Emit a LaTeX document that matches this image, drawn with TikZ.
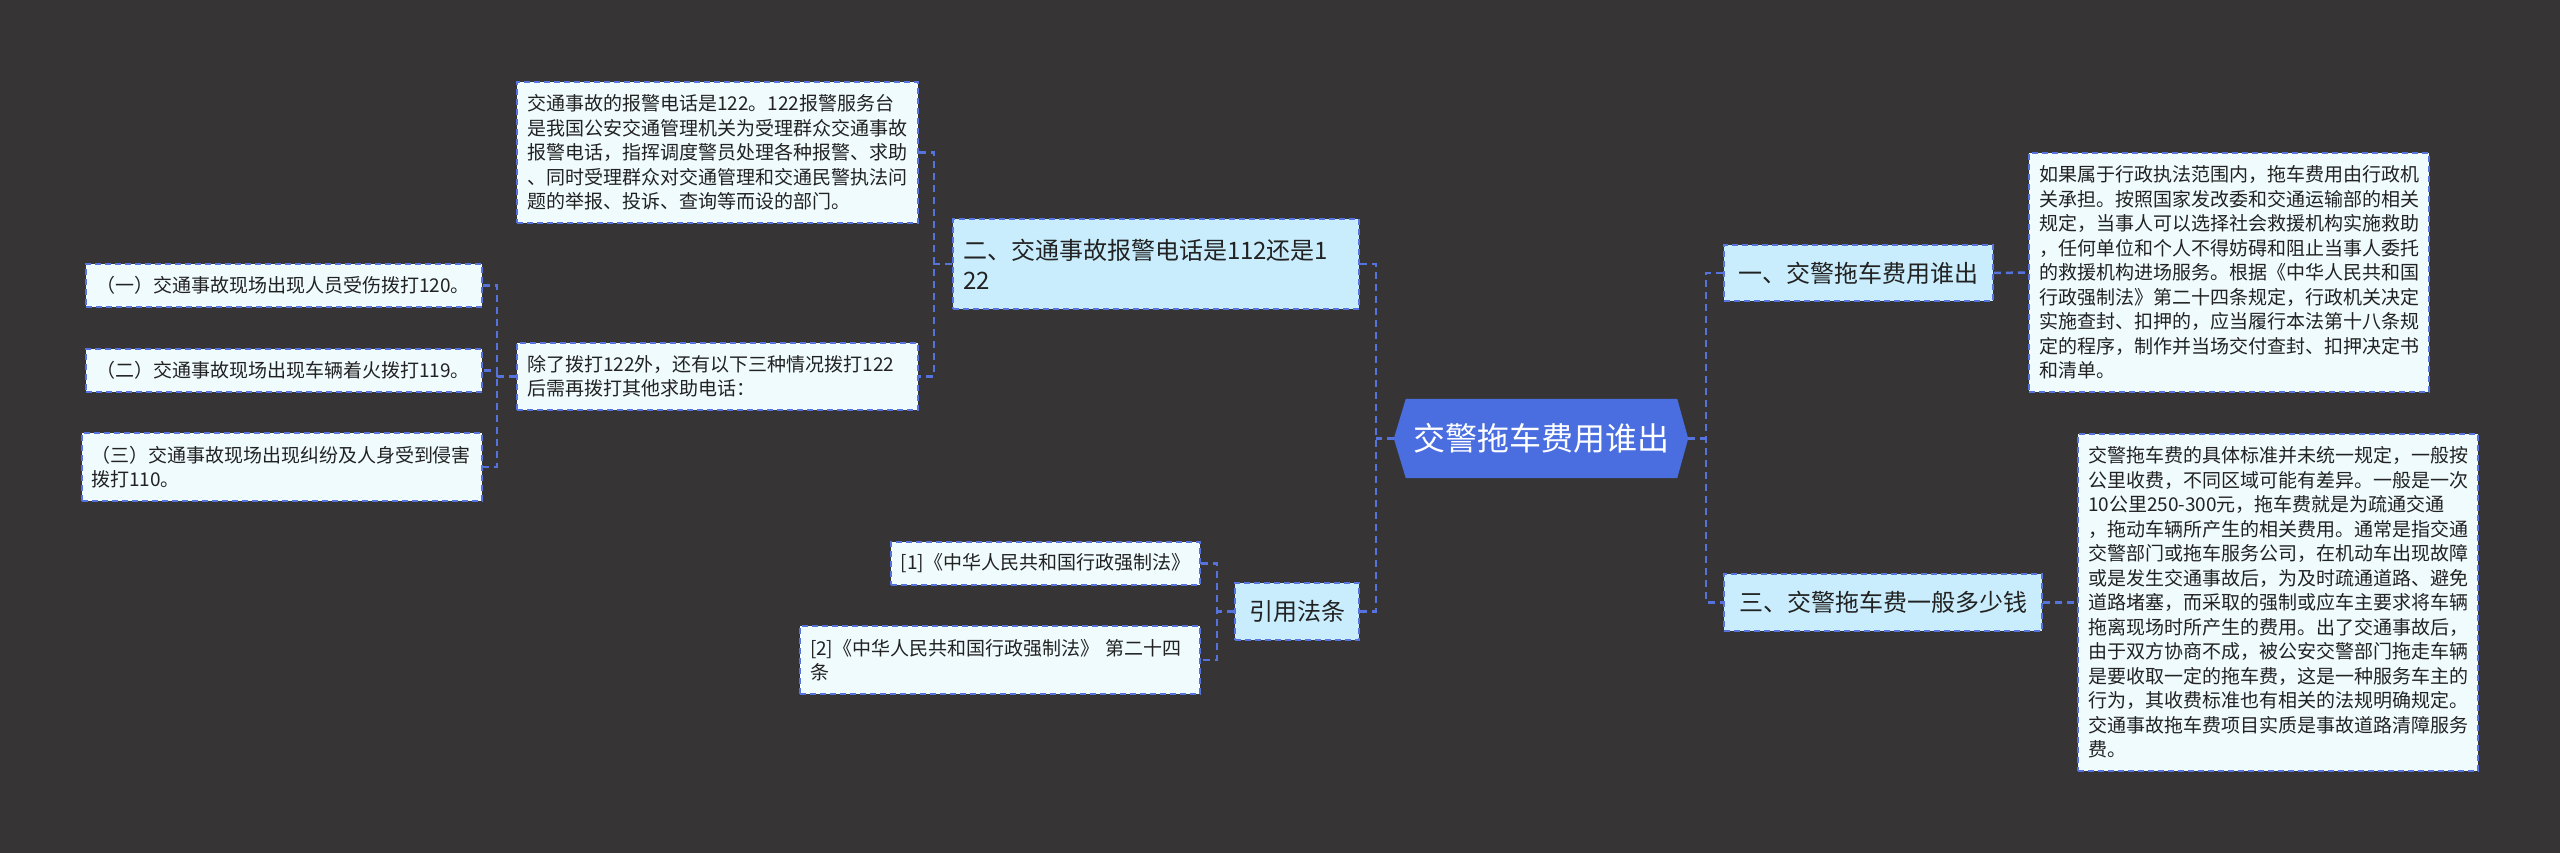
\documentclass[tikz,border=0pt]{standalone}
\usepackage{fontspec}
\newfontfamily\cjk{Noto Sans CJK SC}
\usetikzlibrary{backgrounds}
\definecolor{bgc}{RGB}{54,52,53}
\definecolor{leaffill}{HTML}{F0FBFE}
\definecolor{lvfill}{HTML}{C9EDFC}
\definecolor{linec}{HTML}{5672DC}
\definecolor{rootfill}{HTML}{4A6EE0}
\definecolor{textc}{HTML}{222222}
\begin{document}
\begin{tikzpicture}[x=1pt,y=-1pt,
  leaf/.style={draw=linec, fill=leaffill, dash pattern=on 6pt off 4pt, line width=1.8pt,
    text=textc, font=\cjk\fontsize{19pt}{24.5pt}\selectfont, align=left,
    inner xsep=10pt, inner ysep=0pt, anchor=center},
  lvone/.style={draw=linec, fill=lvfill, dash pattern=on 6pt off 4pt, line width=1.8pt,
    text=textc, font=\cjk\fontsize{24pt}{30pt}\selectfont, align=left,
    inner xsep=10pt, inner ysep=0pt, anchor=center},
  rootbox/.style={text=white, font=\cjk\fontsize{32pt}{38pt}\selectfont,
    inner sep=0pt, minimum width=294pt, minimum height=79pt, anchor=center},
  conn/.style={draw=linec, line width=2.5pt, dash pattern=on 7pt off 5pt}
]
\useasboundingbox (0,0) rectangle (2560,853);
\begin{scope}[on background layer]
  \fill[bgc] (0,0) rectangle (2560,853);
\end{scope}

% root
\node[rootbox] (root) at (1541,438.5) {交警拖车费用谁出};
\begin{scope}[on background layer]
  \fill[rootfill] (root.west) -- ([xshift=12pt]root.north west) -- ([xshift=-11pt]root.north east)
    -- (root.east) -- ([xshift=-11pt]root.south east) -- ([xshift=12pt]root.south west) -- cycle;
\end{scope}

% left side
\node[lvone, text width=386pt, minimum height=90pt] (B) at (1156,264)
  {二、交通事故报警电话是112还是1\\22};
\node[leaf, text width=381pt, minimum height=141pt] (A) at (717.5,152.5)
  {交通事故的报警电话是122。122报警服务台\\是我国公安交通管理机关为受理群众交通事故\\报警电话，指挥调度警员处理各种报警、求助\\、同时受理群众对交通管理和交通民警执法问\\题的举报、投诉、查询等而设的部门。};
\node[leaf, text width=381pt, minimum height=67pt] (C) at (717.5,376.5)
  {除了拨打122外，还有以下三种情况拨打122\\后需再拨打其他求助电话：};
\node[leaf, text width=376pt, minimum height=43pt] (L1) at (284,285.5)
  {（一）交通事故现场出现人员受伤拨打120。};
\node[leaf, text width=376pt, minimum height=43pt] (L2) at (284,370.5)
  {（二）交通事故现场出现车辆着火拨打119。};
\node[leaf, text width=382pt, minimum height=68pt, inner xsep=9pt] (L3) at (282,467)
  {（三）交通事故现场出现纠纷及人身受到侵害\\拨打110。};

\node[lvone, align=center, inner xsep=0pt, minimum width=124pt, minimum height=57pt] (Y) at (1297,611.5) {引用法条};
\node[leaf, align=center, inner xsep=0pt, minimum width=309pt, minimum height=43pt] (Y1) at (1045.5,563.5)
  {[1]《中华人民共和国行政强制法》};
\node[leaf, text width=380pt, minimum height=68pt] (Y2) at (1000,660)
  {[2]《中华人民共和国行政强制法》 第二十四\\条};

% right side
\node[lvone, align=center, inner xsep=0pt, minimum width=269pt, minimum height=56pt] (R) at (1858.5,273)
  {一、交警拖车费用谁出};
\node[lvone, align=center, inner xsep=0pt, minimum width=318pt, minimum height=57pt] (S) at (1883,602.5)
  {三、交警拖车费一般多少钱};
\node[leaf, text width=380pt, minimum height=239pt] (RT) at (2229,272.5)
  {如果属于行政执法范围内，拖车费用由行政机\\关承担。按照国家发改委和交通运输部的相关\\规定，当事人可以选择社会救援机构实施救助\\，任何单位和个人不得妨碍和阻止当事人委托\\的救援机构进场服务。根据《中华人民共和国\\行政强制法》第二十四条规定，行政机关决定\\实施查封、扣押的，应当履行本法第十八条规\\定的程序，制作并当场交付查封、扣押决定书\\和清单。};
\node[leaf, text width=380pt, minimum height=337pt] (ST) at (2278,602.5)
  {交警拖车费的具体标准并未统一规定，一般按\\公里收费，不同区域可能有差异。一般是一次\\10公里250-300元，拖车费就是为疏通交通\\，拖动车辆所产生的相关费用。通常是指交通\\交警部门或拖车服务公司，在机动车出现故障\\或是发生交通事故后，为及时疏通道路、避免\\道路堵塞，而采取的强制或应车主要求将车辆\\拖离现场时所产生的费用。出了交通事故后，\\由于双方协商不成，被公安交警部门拖走车辆\\是要收取一定的拖车费，这是一种服务车主的\\行为，其收费标准也有相关的法规明确规定。\\交通事故拖车费项目实质是事故道路清障服务\\费。};

% connectors
\draw[conn] (root.west) -- ++(-18,0) coordinate (jr);
\draw[conn] (B.east) -| (jr) |- (Y.east);
\draw[conn] (root.east) -- ++(18,0) coordinate (jl);
\draw[conn] (R.west) -| (jl) |- (S.west);
\draw[conn] (B.west) -- ++(-18,0) coordinate (jb);
\draw[conn] (A.east) -| (jb) |- (C.east);
\draw[conn] (C.west) -- ++(-19,0) coordinate (jc);
\draw[conn] (L1.east) -| (jc) |- (L3.east);
\draw[conn] (jc) |- (L2.east);
\draw[conn] (Y.west) -- ++(-17,0) coordinate (jy);
\draw[conn] (Y1.east) -| (jy) |- (Y2.east);
\draw[conn] (R.east) -- (RT.west);
\draw[conn] (S.east) -- (ST.west);
\end{tikzpicture}
\end{document}
